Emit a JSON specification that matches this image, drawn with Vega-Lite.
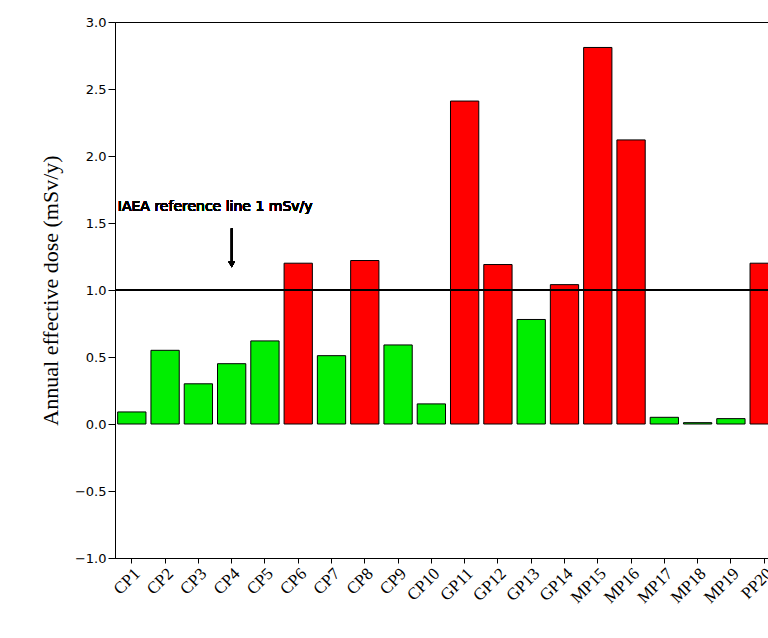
{
"$schema":"https://vega.github.io/schema/vega-lite/v6.json",
"width":666,"height":536,
"padding":{"left":39,"top":16,"right":0,"bottom":0},
"background":"white",
"config":{"view":{"stroke":"black","strokeWidth":1}},
"data":{"values":[
{"s":"CP1","v":0.09,"c":"g"},{"s":"CP2","v":0.55,"c":"g"},{"s":"CP3","v":0.30,"c":"g"},{"s":"CP4","v":0.45,"c":"g"},{"s":"CP5","v":0.62,"c":"g"},
{"s":"CP6","v":1.20,"c":"r"},{"s":"CP7","v":0.51,"c":"g"},{"s":"CP8","v":1.22,"c":"r"},{"s":"CP9","v":0.59,"c":"g"},{"s":"CP10","v":0.15,"c":"g"},
{"s":"GP11","v":2.41,"c":"r"},{"s":"GP12","v":1.19,"c":"r"},{"s":"GP13","v":0.78,"c":"g"},{"s":"GP14","v":1.04,"c":"r"},{"s":"MP15","v":2.81,"c":"r"},
{"s":"MP16","v":2.12,"c":"r"},{"s":"MP17","v":0.05,"c":"g"},{"s":"MP18","v":0.01,"c":"g"},{"s":"MP19","v":0.04,"c":"g"},{"s":"PP20","v":1.20,"c":"r"}
]},
"layer":[
{"mark":{"type":"bar","stroke":"black","strokeWidth":1},
"encoding":{"x":{"field":"s","type":"nominal","sort":null,"scale":{"paddingInner":0.15,"paddingOuter":0.08},
"axis":{"title":null,"labelAngle":-45,"labelFont":"Liberation Serif","labelFontSize":17,"labelColor":"black","domainColor":"black","tickColor":"black","labelAlign":"right","labelBaseline":"top"}},
"y":{"field":"v","type":"quantitative","scale":{"domain":[-1,3]},
"axis":{"title":"Annual effective dose (mSv/y)","titleFont":"Liberation Serif","titleFontSize":22,"titleFontWeight":"normal","titleColor":"black","titlePadding":12,
"values":[-1,-0.5,0,0.5,1,1.5,2,2.5,3],"format":".1f","labelFont":"DejaVu Sans","labelFontSize":13,"labelColor":"black","grid":false,"domainColor":"black","tickColor":"black","tickSize":7}},
"color":{"field":"c","type":"nominal","scale":{"domain":["g","r"],"range":["#00ee00","#ff0000"]},"legend":null}}},
{"mark":{"type":"rule","color":"black","strokeWidth":1.2},"encoding":{"y":{"datum":1}}},
{"mark":{"type":"text","align":"left","font":"DejaVu Sans","fontSize":14,"dx":-14,"color":"black"},"encoding":{"x":{"datum":"CP1","type":"nominal"},"y":{"datum":1.62},"text":{"value":"IAEA reference line 1 mSv/y"}}},
{"mark":{"type":"rule","color":"black","strokeWidth":1.5},"encoding":{"x":{"datum":"CP4","type":"nominal"},"y":{"datum":1.46},"y2":{"datum":1.2}}},
{"mark":{"type":"point","shape":"triangle-down","filled":true,"color":"black","size":40,"opacity":1},"encoding":{"x":{"datum":"CP4","type":"nominal"},"y":{"datum":1.19}}}
]
}
